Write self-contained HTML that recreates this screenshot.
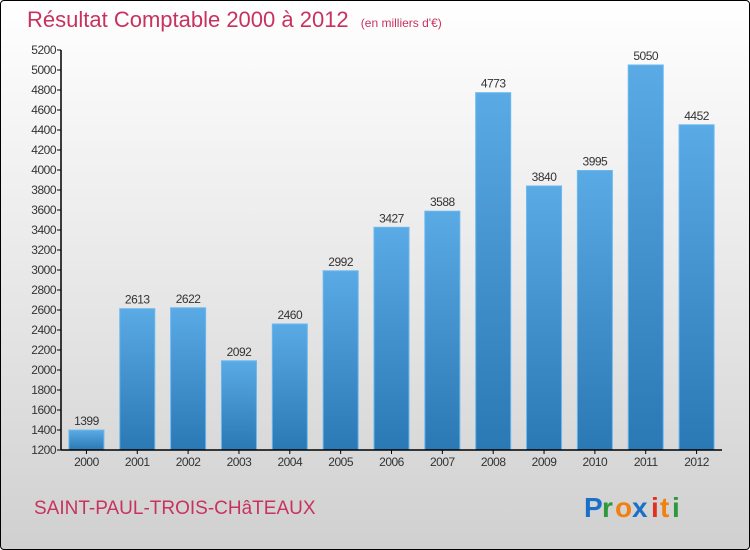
<!DOCTYPE html>
<html><head><meta charset="utf-8"><style>
html,body{margin:0;padding:0;}
body{width:750px;height:550px;overflow:hidden;font-family:"Liberation Sans",sans-serif;}
#wrap{position:absolute;left:0;top:0;width:748px;height:548px;border:1px solid #000;border-radius:4px;background:linear-gradient(#ffffff 0%,#e6e6e6 55%,#d0d0d0 100%);}
</style></head><body>
<div id="wrap">
<svg id="chart" width="750" height="550" style="position:absolute;left:-1px;top:-1px">
<defs>
<linearGradient id="bg" x1="0" y1="0" x2="0" y2="1"><stop offset="0" stop-color="#5aaae6"/><stop offset="1" stop-color="#2a78b4"/></linearGradient>
</defs>
<text x="27" y="27" font-size="22" fill="#c8325f">Résultat Comptable 2000 à 2012 <tspan font-size="12" dx="6">(en milliers d'€)</tspan></text>
<text x="34" y="514" font-size="19" fill="#c8325f">SAINT-PAUL-TROIS-CHâTEAUX</text>
<g font-size="28" font-weight="bold">
<text x="584" y="517" fill="#1a6fc8">P</text><text x="602" y="517" fill="#2a9a3a">r</text><text x="615" y="517" fill="#f08010">o</text><text x="632" y="517" fill="#1a6fc8">x</text><text x="651" y="517" fill="#e03020">i</text><text x="660" y="517" fill="#f08010">t</text><text x="672" y="517" fill="#2a9a3a">i</text>
</g>
<g id="plot"></g>
</svg>
</div>
<script>
const categories=["2000","2001","2002","2003","2004","2005","2006","2007","2008","2009","2010","2011","2012"];
const values=[1399,2613,2622,2092,2460,2992,3427,3588,4773,3840,3995,5050,4452];
const yTicks=[1200,1400,1600,1800,2000,2200,2400,2600,2800,3000,3200,3400,3600,3800,4000,4200,4400,4600,4800,5000,5200];
const NS="http://www.w3.org/2000/svg";
const x0=61,x1=722,yMin=1200,yMax=5200,py0=450,py1=50;
const y=v=>py0-(v-yMin)/(yMax-yMin)*(py0-py1);
const step=(x1-x0)/categories.length;
const xc=i=>x0+step*(i+0.5);
const g=document.getElementById('plot');
function el(t,a){const e=document.createElementNS(NS,t);for(const k in a)e.setAttribute(k,a[k]);g.appendChild(e);return e;}
yTicks.forEach(t=>{
 const l=el('line',{x1:x0-4,x2:x0,y1:y(t),y2:y(t),stroke:'#000'});
 
 
 const tx=el('text',{x:x0-5,y:y(t)+4,'font-size':12,'text-anchor':'end',fill:'#333','letter-spacing':'-0.5'});
 tx.textContent=t;
 
 
});
categories.forEach((c,i)=>{
 const v=values[i];
 const r=el('rect',{x:xc(i)-17.5,y:y(v),width:35,height:py0-y(v),fill:'url(#bg)',stroke:'#6ab8ee','stroke-width':1});
 
 
 const vl=el('text',{x:xc(i),y:y(v)-5,'font-size':12,'text-anchor':'middle',fill:'#333','letter-spacing':'-0.5'});
 vl.textContent=v;
 
 
 const tk=el('line',{x1:xc(i),x2:xc(i),y1:py0,y2:py0+4,stroke:'#000'});
 
 
 const xl=el('text',{x:xc(i),y:py0+16,'font-size':12,'text-anchor':'middle',fill:'#333','letter-spacing':'-0.5'});
 xl.textContent=c;
 
 
});
const ya=el('line',{x1:x0,x2:x0,y1:py1,y2:py0,stroke:'#000','stroke-width':1.5});


const xa=el('line',{x1:x0,x2:x1,y1:py0,y2:py0,stroke:'#000','stroke-width':1.5});


</script>
</body></html>
